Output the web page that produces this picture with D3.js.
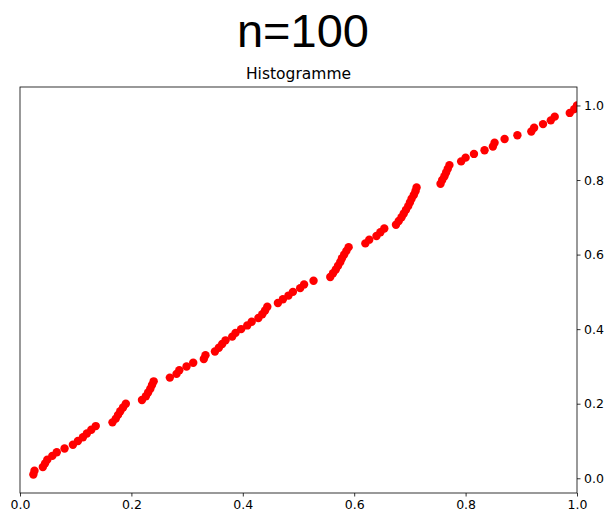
<!DOCTYPE html>
<html>
<head>
<meta charset="utf-8">
<script src="https://cdn.jsdelivr.net/npm/d3@7"></script>
<style>
  body { margin: 0; background: #fff; }
  text { font-family: "DejaVu Sans", sans-serif; }
</style>
</head>
<body>
<svg id="chart" width="606" height="514"></svg>
<script>
// sorted sample values (x) and their cumulative rank / n (y)
const xValues = [
  0.024, 0.026, 0.041, 0.045, 0.049, 0.058, 0.066, 0.080, 0.095, 0.104,
  0.113, 0.120, 0.128, 0.136, 0.166, 0.172, 0.176, 0.180, 0.185, 0.190,
  0.219, 0.226, 0.230, 0.234, 0.237, 0.240, 0.269, 0.281, 0.286, 0.299,
  0.311, 0.330, 0.333, 0.350, 0.357, 0.363, 0.369, 0.381, 0.387, 0.397,
  0.408, 0.416, 0.428, 0.435, 0.440, 0.444, 0.463, 0.472, 0.482, 0.490,
  0.503, 0.510, 0.527, 0.557, 0.562, 0.567, 0.571, 0.575, 0.578, 0.582,
  0.586, 0.590, 0.620, 0.627, 0.640, 0.647, 0.654, 0.675, 0.680, 0.685,
  0.689, 0.693, 0.697, 0.700, 0.703, 0.707, 0.710, 0.712, 0.755, 0.758,
  0.762, 0.765, 0.768, 0.771, 0.792, 0.800, 0.815, 0.834, 0.849, 0.852,
  0.870, 0.893, 0.918, 0.923, 0.939, 0.953, 0.960, 0.987, 0.995, 1.000
];
const yValues = [
  0.01, 0.02, 0.03, 0.04, 0.05, 0.06, 0.07, 0.08, 0.09, 0.10,
  0.11, 0.12, 0.13, 0.14, 0.15, 0.16, 0.17, 0.18, 0.19, 0.20,
  0.21, 0.22, 0.23, 0.24, 0.25, 0.26, 0.27, 0.28, 0.29, 0.30,
  0.31, 0.32, 0.33, 0.34, 0.35, 0.36, 0.37, 0.38, 0.39, 0.40,
  0.41, 0.42, 0.43, 0.44, 0.45, 0.46, 0.47, 0.48, 0.49, 0.50,
  0.51, 0.52, 0.53, 0.54, 0.55, 0.56, 0.57, 0.58, 0.59, 0.60,
  0.61, 0.62, 0.63, 0.64, 0.65, 0.66, 0.67, 0.68, 0.69, 0.70,
  0.71, 0.72, 0.73, 0.74, 0.75, 0.76, 0.77, 0.78, 0.79, 0.80,
  0.81, 0.82, 0.83, 0.84, 0.85, 0.86, 0.87, 0.88, 0.89, 0.90,
  0.91, 0.92, 0.93, 0.94, 0.95, 0.96, 0.97, 0.98, 0.99, 1.00
];
const xTicks = [0, 0.2, 0.4, 0.6, 0.8, 1.0];
const yTicks = [0, 0.2, 0.4, 0.6, 0.8, 1.0];
const suptitle = "n=100";
const title = "Histogramme";

const svg = d3.select('#chart');
const margin = { left: 20, right: 29, top: 87, bottom: 21 };
const width = 606 - margin.left - margin.right;
const height = 514 - margin.top - margin.bottom;

// matplotlib style 5% margin on y, x fixed to [0, 1]
const yMin = d3.min(yValues), yMax = d3.max(yValues);
const pad = (yMax - yMin) * 0.05;

const x = d3.scaleLinear().domain([0, 1]).range([0, width]);
const y = d3.scaleLinear().domain([yMin - pad, yMax + pad]).range([height, 0]);

const g = svg.append('g').attr('transform', `translate(${margin.left},${margin.top})`);

g.append('clipPath').attr('id', 'clip')
  .append('rect').attr('width', width).attr('height', height);

// points
g.append('g').attr('clip-path', 'url(#clip)')
  .selectAll('circle')
  .data(xValues.map((d, i) => [d, yValues[i]]))
  .join('circle')
  .attr('cx', d => x(d[0]))
  .attr('cy', d => y(d[1]))
  .attr('r', 4.2)
  .attr('fill', '#ff0000');

// frame
g.append('rect')
  .attr('width', width).attr('height', height)
  .attr('fill', 'none').attr('stroke', '#000').attr('stroke-width', 0.8);

// bottom axis
const xAxis = g.append('g').attr('transform', `translate(0,${height})`)
  .call(d3.axisBottom(x).tickValues(xTicks).tickFormat(d3.format('.1f')).tickSize(3.5).tickPadding(3.5));

// right axis
const yAxis = g.append('g').attr('transform', `translate(${width},0)`)
  .call(d3.axisRight(y).tickValues(yTicks).tickFormat(d3.format('.1f')).tickSize(3.5).tickPadding(3.5));

[xAxis, yAxis].forEach(ax => {
  ax.select('.domain').remove();
  ax.selectAll('line').attr('stroke', '#000').attr('stroke-width', 0.8);
  ax.selectAll('text').attr('fill', '#000').style('font-size', '12.5px')
    .style('font-family', '"DejaVu Sans", sans-serif');
});

// titles
svg.append('text')
  .attr('x', 303).attr('y', 47)
  .attr('text-anchor', 'middle')
  .style('font-family', '"Liberation Sans", Arial, sans-serif')
  .style('font-size', '47px')
  .text(suptitle);

svg.append('text')
  .attr('x', margin.left + width / 2).attr('y', 79)
  .attr('text-anchor', 'middle')
  .style('font-size', '15.5px')
  .text(title);
</script>
</body>
</html>
